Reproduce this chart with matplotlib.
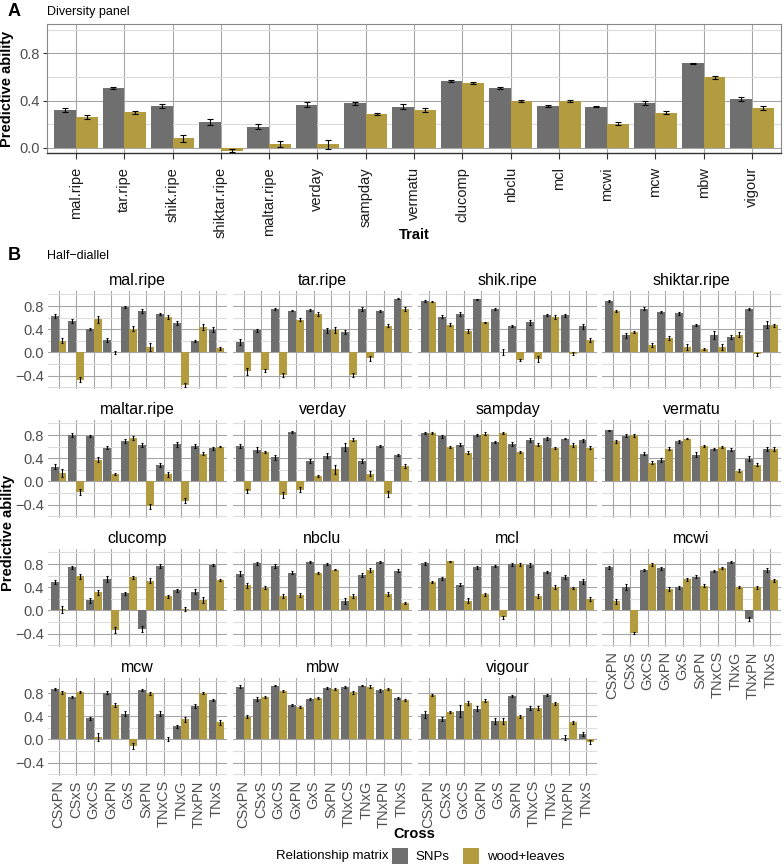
import numpy as np
import matplotlib
matplotlib.use("Agg")
import matplotlib.pyplot as plt
from matplotlib.patches import Patch

plt.rcParams['font.family'] = ['Liberation Sans', 'DejaVu Sans']

# ---------------- data ----------------
traits = ["mal.ripe", "tar.ripe", "shik.ripe", "shiktar.ripe", "maltar.ripe", "verday",
          "sampday", "vermatu", "clucomp", "nbclu", "mcl", "mcwi", "mcw", "mbw", "vigour"]
series = ["SNPs", "wood+leaves"]
colors = {"SNPs": "#6f6f6f", "wood+leaves": "#b39c40"}

divA_snp = [0.323, 0.510, 0.355, 0.218, 0.179, 0.366, 0.377, 0.349, 0.565, 0.508, 0.357, 0.349, 0.380, 0.718, 0.411]
divA_wl = [0.261, 0.300, 0.079, -0.025, 0.034, 0.028, 0.286, 0.323, 0.547, 0.394, 0.397, 0.204, 0.298, 0.596, 0.335]
divA_snp_err = [0.018, 0.008, 0.018, 0.028, 0.024, 0.018, 0.014, 0.018, 0.008, 0.010, 0.008, 0.007, 0.020, 0.005, 0.016]
divA_wl_err = [0.018, 0.012, 0.028, 0.010, 0.026, 0.035, 0.006, 0.018, 0.008, 0.010, 0.005, 0.012, 0.015, 0.012, 0.016]

crosses = ["CSxPN", "CSxS", "GxCS", "GxPN", "GxS", "SxPN", "TNxCS", "TNxG", "TNxPN", "TNxS"]

hd_snp = {
    "mal.ripe":     [0.627, 0.539, 0.410, 0.211, 0.779, 0.714, 0.662, 0.510, 0.193, 0.392],
    "tar.ripe":     [0.187, 0.380, 0.750, 0.720, 0.732, 0.380, 0.351, 0.750, 0.720, 0.925],
    "shik.ripe":    [0.884, 0.620, 0.662, 0.920, 0.744, 0.457, 0.521, 0.644, 0.638, 0.451],
    "shiktar.ripe": [0.884, 0.293, 0.755, 0.697, 0.673, 0.468, 0.299, 0.264, 0.755, 0.480],
    "maltar.ripe":  [0.257, 0.800, 0.784, 0.585, 0.696, 0.626, 0.287, 0.643, 0.608, 0.573],
    "verday":       [0.608, 0.550, 0.415, 0.854, 0.357, 0.444, 0.590, 0.350, 0.608, 0.462],
    "sampday":      [0.836, 0.778, 0.637, 0.800, 0.678, 0.649, 0.713, 0.743, 0.737, 0.708],
    "vermatu":      [0.883, 0.790, 0.480, 0.368, 0.690, 0.462, 0.556, 0.550, 0.392, 0.561],
    "clucomp":      [0.494, 0.741, 0.176, 0.547, 0.294, -0.318, 0.765, 0.347, 0.324, 0.782],
    "nbclu":        [0.635, 0.812, 0.765, 0.653, 0.835, 0.806, 0.159, 0.612, 0.835, 0.688],
    "mcl":          [0.812, 0.553, 0.447, 0.741, 0.765, 0.794, 0.782, 0.665, 0.576, 0.500],
    "mcwi":         [0.741, 0.400, 0.694, 0.724, 0.400, 0.582, 0.682, 0.841, -0.147, 0.700],
    "mcw":          [0.865, 0.735, 0.365, 0.806, 0.447, 0.853, 0.447, 0.224, 0.576, 0.676],
    "mbw":          [0.912, 0.700, 0.929, 0.600, 0.694, 0.888, 0.900, 0.924, 0.847, 0.712],
    "vigour":       [0.435, 0.353, 0.488, 0.529, 0.324, 0.753, 0.541, 0.771, 0.030, 0.094],
}
hd_wl = {
    "mal.ripe":     [0.205, -0.469, 0.574, 0.000, 0.410, 0.100, 0.615, -0.562, 0.440, 0.070],
    "tar.ripe":     [-0.320, -0.310, -0.390, 0.568, 0.662, 0.392, -0.392, -0.100, 0.463, 0.750],
    "shik.ripe":    [0.878, 0.480, 0.369, 0.521, 0.010, -0.135, -0.117, 0.609, -0.020, 0.217],
    "shiktar.ripe": [0.714, 0.357, 0.129, 0.252, 0.100, 0.064, 0.088, 0.305, -0.035, 0.468],
    "maltar.ripe":  [0.140, -0.175, 0.374, 0.129, 0.749, -0.427, 0.123, -0.333, 0.480, 0.596],
    "verday":       [-0.164, 0.503, -0.240, -0.140, 0.100, 0.210, 0.720, 0.135, -0.210, 0.269],
    "sampday":      [0.830, 0.596, 0.497, 0.825, 0.836, 0.503, 0.637, 0.573, 0.632, 0.585],
    "vermatu":      [0.690, 0.795, 0.327, 0.567, 0.737, 0.608, 0.596, 0.187, 0.292, 0.556],
    "clucomp":      [0.024, 0.588, 0.312, -0.341, 0.571, 0.512, 0.241, 0.024, 0.182, 0.529],
    "nbclu":        [0.435, 0.394, 0.247, 0.265, 0.641, 0.706, 0.253, 0.694, 0.288, 0.124],
    "mcl":          [0.488, 0.847, 0.171, 0.276, -0.118, 0.794, 0.247, 0.406, 0.388, 0.200],
    "mcwi":         [0.159, -0.388, 0.794, 0.371, 0.535, 0.429, 0.729, 0.406, 0.400, 0.518],
    "mcw":          [0.812, 0.824, 0.047, 0.594, -0.118, 0.794, 0.010, 0.347, 0.800, 0.294],
    "mbw":          [0.394, 0.735, 0.841, 0.565, 0.718, 0.876, 0.812, 0.912, 0.876, 0.682],
    "vigour":       [0.765, 0.470, 0.629, 0.671, 0.324, 0.400, 0.541, 0.624, 0.294, -0.040],
}
hd_snp_err = {
    "mal.ripe":     [0.04, 0.03, 0.02, 0.03, 0.02, 0.03, 0.02, 0.04, 0.02, 0.04],
    "tar.ripe":     [0.05, 0.03, 0.02, 0.01, 0.02, 0.04, 0.03, 0.03, 0.02, 0.01],
    "shik.ripe":    [0.02, 0.03, 0.03, 0.01, 0.02, 0.02, 0.04, 0.02, 0.02, 0.04],
    "shiktar.ripe": [0.02, 0.04, 0.03, 0.02, 0.02, 0.02, 0.07, 0.04, 0.02, 0.06],
    "maltar.ripe":  [0.04, 0.03, 0.01, 0.02, 0.03, 0.04, 0.04, 0.04, 0.03, 0.03],
    "verday":       [0.03, 0.04, 0.04, 0.02, 0.03, 0.04, 0.07, 0.04, 0.02, 0.02],
    "sampday":      [0.01, 0.02, 0.03, 0.02, 0.02, 0.03, 0.03, 0.02, 0.01, 0.03],
    "vermatu":      [0.01, 0.02, 0.03, 0.04, 0.02, 0.04, 0.02, 0.02, 0.04, 0.03],
    "clucomp":      [0.04, 0.03, 0.04, 0.05, 0.03, 0.05, 0.03, 0.03, 0.04, 0.02],
    "nbclu":        [0.04, 0.02, 0.03, 0.03, 0.02, 0.02, 0.05, 0.03, 0.02, 0.03],
    "mcl":          [0.02, 0.02, 0.03, 0.03, 0.02, 0.02, 0.03, 0.02, 0.03, 0.05],
    "mcwi":         [0.02, 0.05, 0.02, 0.03, 0.03, 0.03, 0.02, 0.02, 0.04, 0.03],
    "mcw":          [0.02, 0.02, 0.03, 0.03, 0.04, 0.02, 0.04, 0.03, 0.03, 0.02],
    "mbw":          [0.03, 0.04, 0.01, 0.02, 0.02, 0.02, 0.02, 0.01, 0.02, 0.02],
    "vigour":       [0.06, 0.04, 0.10, 0.04, 0.05, 0.02, 0.04, 0.02, 0.04, 0.04],
}
hd_wl_err = {
    "mal.ripe":     [0.05, 0.04, 0.06, 0.03, 0.04, 0.07, 0.03, 0.03, 0.05, 0.03],
    "tar.ripe":     [0.06, 0.03, 0.04, 0.03, 0.04, 0.05, 0.03, 0.04, 0.03, 0.03],
    "shik.ripe":    [0.01, 0.02, 0.03, 0.01, 0.05, 0.02, 0.05, 0.03, 0.02, 0.04],
    "shiktar.ripe": [0.01, 0.02, 0.04, 0.03, 0.05, 0.02, 0.05, 0.04, 0.03, 0.03],
    "maltar.ripe":  [0.07, 0.05, 0.04, 0.02, 0.03, 0.04, 0.04, 0.04, 0.03, 0.01],
    "verday":       [0.03, 0.02, 0.05, 0.05, 0.02, 0.08, 0.03, 0.04, 0.05, 0.03],
    "sampday":      [0.02, 0.02, 0.02, 0.02, 0.02, 0.02, 0.02, 0.02, 0.03, 0.03],
    "vermatu":      [0.02, 0.02, 0.02, 0.03, 0.01, 0.02, 0.02, 0.02, 0.02, 0.03],
    "clucomp":      [0.06, 0.04, 0.04, 0.05, 0.03, 0.04, 0.02, 0.04, 0.05, 0.02],
    "nbclu":        [0.04, 0.02, 0.03, 0.03, 0.02, 0.01, 0.03, 0.03, 0.03, 0.02],
    "mcl":          [0.02, 0.01, 0.04, 0.02, 0.03, 0.02, 0.04, 0.04, 0.02, 0.03],
    "mcwi":         [0.04, 0.02, 0.02, 0.03, 0.02, 0.02, 0.02, 0.02, 0.03, 0.02],
    "mcw":          [0.02, 0.02, 0.07, 0.03, 0.05, 0.02, 0.03, 0.04, 0.02, 0.05],
    "mbw":          [0.02, 0.02, 0.02, 0.02, 0.02, 0.02, 0.02, 0.02, 0.02, 0.02],
    "vigour":       [0.02, 0.02, 0.03, 0.02, 0.05, 0.03, 0.04, 0.03, 0.03, 0.03],
}

# ---------------- layout helpers ----------------
W, H = 784, 866
fig = plt.figure(figsize=(W / 100, H / 100), dpi=100)


def px_axes(x0, y0, x1, y1):
    return fig.add_axes([x0 / W, 1 - y1 / H, (x1 - x0) / W, (y1 - y0) / H])


MAJ_GRID = "#a6a6a6"
MIN_GRID = "#dcdcdc"
TICK_COL = "#4d4d4d"
BW = 0.45


def style_grid(ax, ymajor, yminor, n):
    ax.set_facecolor("white")
    ax.set_yticks(ymajor)
    ax.set_yticks(yminor, minor=True)
    ax.set_xticks(np.arange(n))
    ax.grid(True, which="major", axis="both", color=MAJ_GRID, lw=0.8, zorder=0)
    ax.grid(True, which="minor", axis="y", color=MIN_GRID, lw=0.8, zorder=0)
    ax.set_axisbelow(True)
    ax.tick_params(which="minor", length=0)


def draw_pairs(ax, a, b, ea, eb, capsize):
    x = np.arange(len(a))
    ax.bar(x - BW / 2, a, BW, color=colors["SNPs"], zorder=2)
    ax.bar(x + BW / 2, b, BW, color=colors["wood+leaves"], zorder=2)
    ax.errorbar(x - BW / 2, a, yerr=ea, fmt="none", ecolor="black", elinewidth=0.8,
                capsize=capsize, capthick=0.8, zorder=3)
    ax.errorbar(x + BW / 2, b, yerr=eb, fmt="none", ecolor="black", elinewidth=0.8,
                capsize=capsize, capthick=0.8, zorder=3)


# ---------------- Panel A ----------------
axA = px_axes(47, 24, 781, 153)
style_grid(axA, [0.0, 0.4, 0.8], [0.2, 0.6, 1.0], len(traits))
draw_pairs(axA, divA_snp, divA_wl, divA_snp_err, divA_wl_err, 2.0)
axA.set_xlim(-0.6, len(traits) - 0.4)
axA.set_ylim(-0.045, 1.05)
axA.set_yticklabels(["0.0", "0.4", "0.8"])
axA.set_xticklabels(traits, rotation=90, fontsize=10.5, color="#1a1a1a")
axA.tick_params(axis="y", labelsize=10.5, labelcolor=TICK_COL, length=3, color="#333333", pad=2)
axA.tick_params(axis="x", length=4, color="#333333", pad=6)
for s in ["top", "right"]:
    axA.spines[s].set_color("#888888")
    axA.spines[s].set_linewidth(0.8)
axA.spines["left"].set_color("#888888")
axA.spines["left"].set_linewidth(0.8)
axA.spines["bottom"].set_color("#333333")
axA.spines["bottom"].set_linewidth(1.0)
axA.set_ylabel("Predictive ability", fontsize=10.5, fontweight="bold", labelpad=4)
axA.set_xlabel("Trait", fontsize=10.5, fontweight="bold")
axA.xaxis.set_label_coords((414 - 47) / (781 - 47), -0.58)

fig.text(8 / W, 1 - 12 / H, "A", fontsize=13, fontweight="bold", va="center", ha="left")
fig.text(47 / W, 1 - 12 / H, "Diversity panel", fontsize=9, va="center", ha="left")

# ---------------- Panel B ----------------
fig.text(8 / W, 1 - 255 / H, "B", fontsize=13, fontweight="bold", va="center", ha="left")
fig.text(47 / W, 1 - 256 / H, "Half\u2212diallel", fontsize=9, va="center", ha="left")

col_x = [(48, 227), (233, 412), (418, 597), (602, 781)]
row_y = [(291, 389), (420, 518), (549, 647), (678, 776)]
ylimB = (-0.63, 1.06)

for i, tr in enumerate(traits):
    r, c = divmod(i, 4)
    x0, x1 = col_x[c]
    y0, y1 = row_y[r]
    ax = px_axes(x0, y0, x1, y1)
    style_grid(ax, [-0.4, 0.0, 0.4, 0.8], [-0.6, -0.2, 0.2, 0.6, 1.0], len(crosses))
    draw_pairs(ax, hd_snp[tr], hd_wl[tr], hd_snp_err[tr], hd_wl_err[tr], 0.8)
    ax.set_xlim(-0.6, len(crosses) - 0.4)
    ax.set_ylim(*ylimB)
    for s in ax.spines.values():
        s.set_visible(False)
    ax.set_title(tr, fontsize=11.5, pad=4)
    ax.tick_params(axis="both", length=0, labelsize=10.5, labelcolor=TICK_COL, pad=3)
    if c == 0:
        ax.set_yticklabels(["\u22120.4", "0.0", "0.4", "0.8"])
    else:
        ax.set_yticklabels([])
    bottom_row = (r == 3) or (i + 4 >= len(traits))
    if bottom_row:
        ax.set_xticklabels(crosses, rotation=90, fontsize=10.5)
    else:
        ax.set_xticklabels([])

fig.text(414 / W, 1 - 834 / H, "Cross", fontsize=10.5, fontweight="bold", ha="center", va="center")
fig.text(1 / W, 1 - 533 / H, "Predictive ability", fontsize=10.5, fontweight="bold",
         rotation=90, ha="left", va="center")

# legend
fig.text(389 / W, 1 - 856 / H, "Relationship matrix", fontsize=9.5, ha="right", va="center")
handles = [Patch(facecolor=colors[s], edgecolor="none") for s in series]
fig.legend(handles, series, loc="center left", bbox_to_anchor=(392 / W, 1 - 856 / H),
           ncol=2, frameon=False, fontsize=9.5, handlelength=1.2, handleheight=1.5,
           columnspacing=1.0, handletextpad=0.6, borderaxespad=0, borderpad=0)

fig.savefig("out.png", dpi=100)
